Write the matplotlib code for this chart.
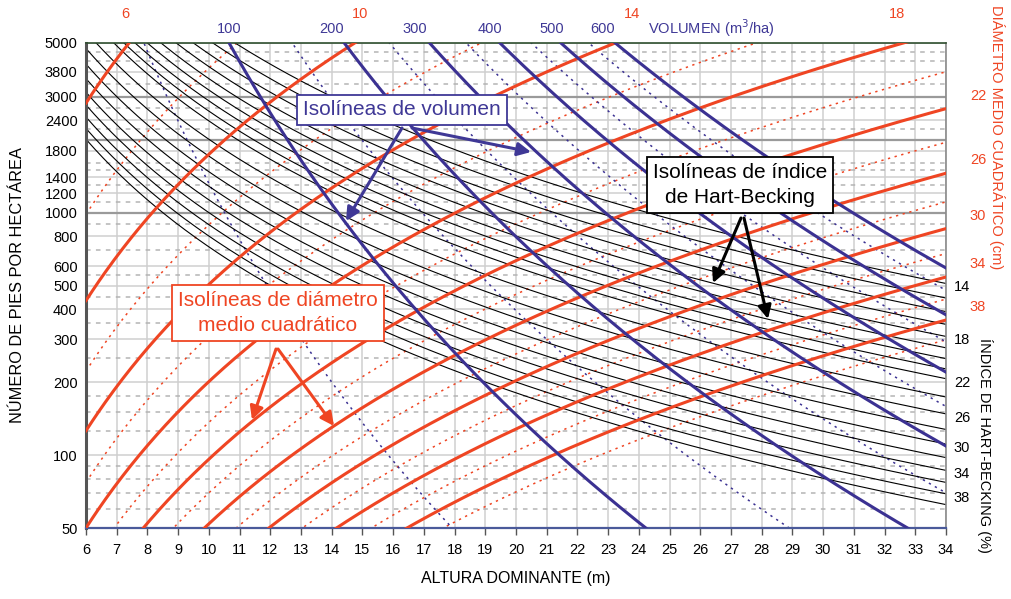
import numpy as np
import matplotlib.pyplot as plt

plt.rcParams['font.family'] = ['Liberation Sans', 'DejaVu Sans']

# ---- axes ----
h_min, h_max = 6, 34
n_min, n_max = 50, 5000
x_ticks = list(range(6, 35))
y_ticks = [50, 100, 200, 300, 400, 500, 600, 800, 1000, 1200, 1400, 1800, 2400, 3000, 3800, 5000]
y_grid_dark = [1000, 2000, 3000]
y_grid_minor = [60, 70, 80, 90, 125, 150, 175, 250, 350, 450, 550, 700, 900,
                1100, 1300, 1500, 1600, 2200, 2700, 3400, 4200, 4600]

# ---- Hart-Becking index isolines (%) ----
hb_levels = [14, 15, 16, 17, 18, 19, 20, 21, 22, 24, 26, 28, 30, 32, 34, 36, 38, 40]
hb_labels = [14, 18, 22, 26, 30, 34, 38]

# ---- volume isolines (m3/ha) ----
vol_solid = [100, 200, 300, 400, 500, 600]
vol_dashed = [50, 150, 250, 350, 450, 550]
vol_label_h = [10.66, 13.98, 16.71, 19.16, 21.17, 22.83]
# V=100 meets N=5000 at H=10.66 m, V ~ H^2.3 * N^0.41
vol_h_ref, vol_exp_h, vol_exp_n = 10.66, 2.3, 0.41

# ---- quadratic mean diameter isolines (cm) ----
dg_solid = [6, 10, 14, 18, 22, 26, 30, 34, 38]
dg_dotted = [8, 12, 16, 20, 24, 28, 32, 36, 40]
dg_top_labels = [6, 10, 14, 18]
dg_top_label_h = [7.27, 14.92, 23.78, 32.41]
dg_right_labels = [22, 26, 30, 34, 38]
# Dg=6 meets N=5000 at H=7.4 m, H ~ Dg^1.35, N ~ H^2.72
dg_h_ref, dg_exp_d, dg_exp_h = 7.4, 1.35, 2.72

RED = '#ef4523'
BLUE = '#3b3192'
BLUE_TXT = '#3f3896'

H = np.linspace(h_min, h_max, 400)


def n_hart(ih):
    return (10746.0 / (ih * H)) ** 2


def n_vol(v):
    htop = vol_h_ref * (v / 100.0) ** (1 / vol_exp_h)
    return 5000 * (H / htop) ** (-vol_exp_h / vol_exp_n)


def n_dg(d):
    htop = dg_h_ref * (d / 6.0) ** dg_exp_d
    return 5000 * (H / htop) ** dg_exp_h


def n_at(f, level, h):
    return np.interp(h, H, f(level))


fig = plt.figure(figsize=(10.11, 5.99), dpi=100)
ax = fig.add_axes([86 / 1011, 1 - 528 / 599, 860 / 1011, 485 / 599])
ax.set_yscale('log')
ax.set_xlim(h_min, h_max)
ax.set_ylim(n_min, n_max)

# grid
for x in x_ticks:
    ax.axvline(x, color='#cfcfcf', lw=1.1, zorder=0.5)
for y in y_grid_minor:
    ax.axhline(y, color='#b4b4b4', lw=1.1, ls=(0, (3, 3.5)), zorder=0.5)
for y in y_ticks + [2000]:
    dark = y in y_grid_dark
    ax.axhline(y, color='#9a9a9a' if dark else '#cfcfcf', lw=1.6 if dark else 1.1, zorder=0.6)

# isolines
for d in dg_dotted:
    ax.plot(H, n_dg(d), color=RED, lw=1.1, ls=(0, (1.5, 3)), zorder=1.5)
for v in vol_dashed:
    ax.plot(H, n_vol(v), color=BLUE, lw=1.1, ls=(0, (1.5, 3)), zorder=1.6)
for ih in hb_levels:
    ax.plot(H, n_hart(ih), color='black', lw=0.8, zorder=2)
for d in dg_solid:
    ax.plot(H, n_dg(d), color=RED, lw=2.2, zorder=3)
for v in vol_solid:
    ax.plot(H, n_vol(v), color=BLUE, lw=2.2, zorder=4)

# ticks
ax.set_xticks(x_ticks)
ax.set_xticklabels([str(x) for x in x_ticks], fontsize=10.5)
ax.set_yticks(y_ticks)
ax.set_yticklabels([str(y) for y in y_ticks], fontsize=10.5)
ax.minorticks_off()
ax.tick_params(axis='x', length=5, width=1, color='#555555', pad=6)
ax.tick_params(axis='y', length=0, pad=6)

for side, col, lw in [('left', '#555555', 2.2), ('bottom', '#4a5a9a', 1.6),
                      ('top', '#2f4f2f', 1.2), ('right', '#8a8a8a', 1.2)]:
    ax.spines[side].set_color(col)
    ax.spines[side].set_linewidth(lw)

ax.set_xlabel('ALTURA DOMINANTE (m)', fontsize=11.5, labelpad=10)
ax.set_ylabel('NÚMERO DE PIES POR HECTÁREA', fontsize=11.8, labelpad=14)

# top labels
top = ax.get_xaxis_transform()
for d, h in zip(dg_top_labels, dg_top_label_h):
    ax.text(h, 1.060, str(d), transform=top, color=RED, fontsize=10.5,
            ha='center', va='center')
for v, h in zip(vol_solid, vol_label_h):
    ax.text(h, 1.029, str(v), transform=top, color=BLUE_TXT, fontsize=10.5,
            ha='center', va='center')
ax.text(24.3, 1.031, 'VOLUMEN (m$^3$/ha)', transform=top, color=BLUE_TXT,
        fontsize=10.5, ha='left', va='center')

# right labels
for d in dg_right_labels:
    ax.annotate(str(d), (h_max, n_at(n_dg, d, h_max)), xytext=(32, 13),
                textcoords='offset pixels', color=RED, fontsize=10.5,
                ha='center', va='center', annotation_clip=False)
for ih in hb_labels:
    ax.annotate(str(ih), (h_max, n_at(n_hart, ih, h_max)), xytext=(16, -4),
                textcoords='offset pixels', color='black', fontsize=10.5,
                ha='center', va='center', annotation_clip=False)

fig.text(997 / 1011, 1 - 137 / 599, 'DIÁMETRO MEDIO CUADRÁTICO (cm)', color=RED,
         fontsize=10.5, rotation=270, ha='center', va='center')
fig.text(985 / 1011, 1 - 445 / 599, 'ÍNDICE DE HART-BECKING (%)', color='black',
         fontsize=10.5, rotation=270, ha='center', va='center')


# annotation boxes (positions in figure pixels)
def fp(x, y):
    return (x / 1011, 1 - y / 599)


def callout(text, center, color, starts, heads):
    for s, e in zip(starts, heads):
        ax.annotate('', xy=fp(*e), xycoords='figure fraction',
                    xytext=fp(*s), textcoords='figure fraction',
                    arrowprops=dict(arrowstyle='-|>', color=color, lw=2.2,
                                    mutation_scale=20, shrinkA=0, shrinkB=0),
                    zorder=6, annotation_clip=False)
    ax.text(*fp(*center), text, transform=fig.transFigure, color=color,
            fontsize=15, ha='center', va='center', linespacing=1.4, zorder=7,
            bbox=dict(boxstyle='square,pad=0.28', fc='white', ec=color, lw=1.3))


callout('Isolíneas de volumen', (402, 110), BLUE_TXT,
        [(402, 128), (412, 128)], [(346, 221), (531, 152)])
callout('Isolíneas de índice\nde Hart-Becking', (740, 185), 'black',
        [(741, 218), (744, 218)], [(713, 283), (768, 319)])
callout('Isolíneas de diámetro\nmedio cuadrático', (278, 313), RED,
        [(276, 349), (278, 349)], [(252, 420), (334, 426)])

fig.savefig('out.png', dpi=100)
